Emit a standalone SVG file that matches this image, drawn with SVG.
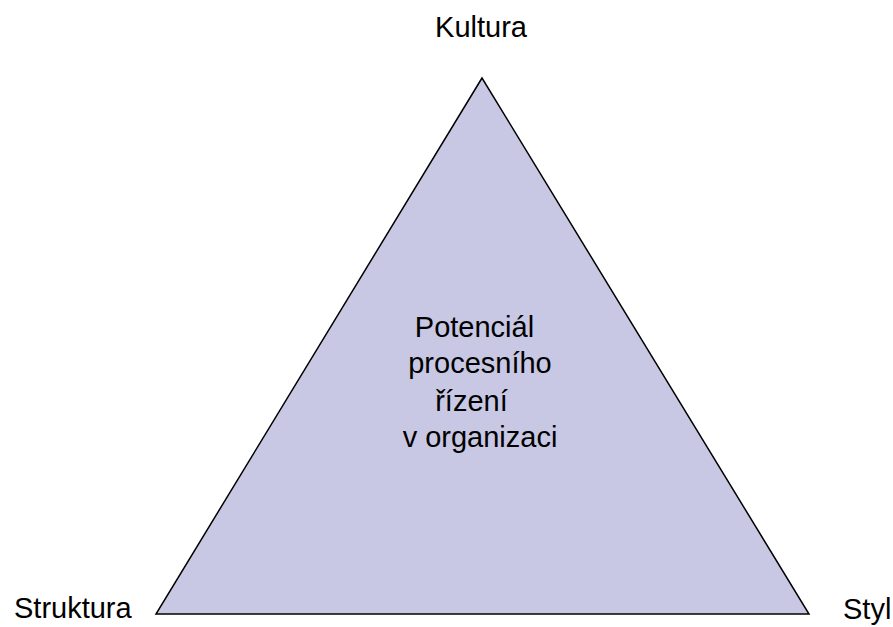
<svg xmlns="http://www.w3.org/2000/svg" width="893" height="627" viewBox="0 0 893 627">
  <style>
    .lbl { font-family: "Liberation Sans", Arial, sans-serif; font-size: 29px; fill: #000; }
    .tri { fill: #C8C8E4; stroke: #000; stroke-width: 1.5; }
  </style>
  <rect width="893" height="627" fill="#fff"/>
  <g id="triangle">
    <polygon class="tri" points="482,78 156,614 809,614"/>
    <text class="lbl" text-anchor="middle">
      <tspan x="478.5" y="337">Potenciál</tspan>
      <tspan x="484" y="373">procesního</tspan>
      <tspan x="475.5" y="411">řízení</tspan>
      <tspan x="480" y="447">v organizaci</tspan>
    </text>
  </g>
  <g id="kultura"><text class="lbl" x="481" y="37" text-anchor="middle">Kultura</text></g>
  <g id="struktura"><text class="lbl" x="14" y="618">Struktura</text></g>
  <g id="styl"><text class="lbl" x="843" y="619">Styl</text></g>
</svg>
